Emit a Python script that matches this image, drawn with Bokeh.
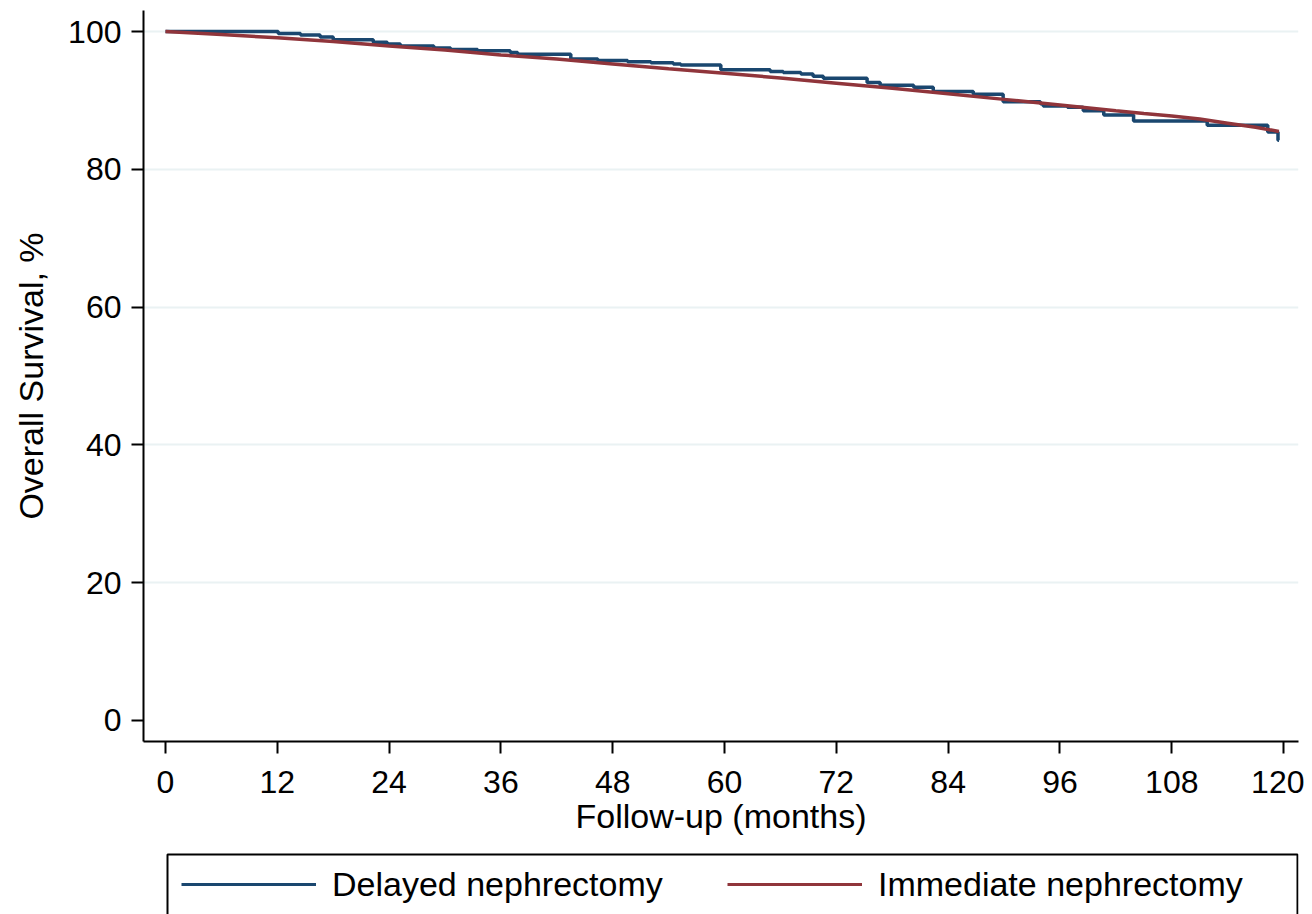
from bokeh.plotting import figure
from bokeh.models import Range1d, FixedTicker, Legend, LegendItem
from bokeh.layouts import column
from bokeh.embed import file_html
from bokeh.resources import INLINE

# ---- data ----
# Delayed nephrectomy: Kaplan-Meier step points (time in months, survival %)
delayed_t = [0, 12.1, 14.5, 16.6, 18.0, 22.3, 23.8, 25.2, 28.8, 30.6, 33.5, 37.0, 37.8,
             43.5, 46.4, 49.6, 52.1, 54.5, 55.3, 59.6, 64.9, 66.3, 68.2, 69.5, 70.6,
             75.3, 76.7, 80.3, 82.4, 86.7, 89.9, 93.9, 94.2, 96.8, 98.5, 100.7, 103.9,
             111.8, 118.3, 119.4, 119.5]
delayed_s = [100, 99.7, 99.5, 99.2, 98.8, 98.45, 98.2, 97.9, 97.6, 97.4, 97.2, 96.95, 96.7,
             96.0, 95.8, 95.6, 95.45, 95.3, 95.15, 94.45, 94.2, 94.05, 93.85, 93.5, 93.2,
             92.6, 92.2, 91.9, 91.3, 90.9, 89.8, 89.5, 89.2, 89.0, 88.5, 87.9, 87.0,
             86.4, 85.4, 84.2, 84.2]

# Immediate nephrectomy (large cohort, near-continuous curve)
immediate_t = [0, 6, 12, 18, 24, 30, 36, 42, 48, 54, 60, 66, 72, 78, 84, 90, 96, 102,
               105, 108, 111, 114, 117, 119.5]
immediate_s = [100, 99.55, 99.1, 98.55, 97.9, 97.3, 96.6, 96.0, 95.3, 94.6, 93.95, 93.25,
               92.5, 91.75, 90.95, 90.15, 89.35, 88.5, 88.1, 87.75, 87.3, 86.7, 86.1, 85.5]

x_ticks = [0, 12, 24, 36, 48, 60, 72, 84, 96, 108, 120]
y_ticks = [0, 20, 40, 60, 80, 100]
grid_ticks = [20, 40, 60, 80, 100]

x_title = "Follow-up (months)"
y_title = "Overall Survival, %"
series_names = ["Delayed nephrectomy", "Immediate nephrectomy"]
NAVY = "#1A476F"
MAROON = "#90353B"
FONT = "Liberation Sans"

# ---- main plot ----
p = figure(width=1304, height=852,
           x_range=Range1d(-2.36, 121.6), y_range=Range1d(-3.05, 103.05),
           output_backend="svg", toolbar_location=None,
           min_border_left=143, min_border_right=6, min_border_top=10, min_border_bottom=111)
p.outline_line_color = None
p.background_fill_color = "white"
p.border_fill_color = "white"

p.xgrid.visible = False
p.ygrid.ticker = FixedTicker(ticks=grid_ticks)
p.ygrid.grid_line_color = "#EAF2F3"
p.ygrid.grid_line_width = 2

p.step(delayed_t, delayed_s, mode="after", line_color=NAVY, line_width=3.5)
p.line(immediate_t, immediate_s, line_color=MAROON, line_width=3.5)

p.xaxis.ticker = FixedTicker(ticks=x_ticks)
p.yaxis.ticker = FixedTicker(ticks=y_ticks)
p.xaxis.axis_label = x_title
p.yaxis.axis_label = y_title

for ax in (p.xaxis, p.yaxis):
    ax.axis_line_color = "black"
    ax.axis_line_width = 2
    ax.major_tick_line_color = "black"
    ax.major_tick_line_width = 2
    ax.major_tick_out = 12
    ax.major_tick_in = 0
    ax.minor_tick_line_color = None
    ax.major_label_text_font = FONT
    ax.major_label_text_font_size = "32px"
    ax.major_label_text_color = "black"
    ax.axis_label_text_font = FONT
    ax.axis_label_text_font_size = "34px"
    ax.axis_label_text_font_style = "normal"
    ax.axis_label_text_color = "black"

p.xaxis.major_label_standoff = 17
p.xaxis.axis_label_standoff = 1
p.yaxis.major_label_standoff = 10
p.yaxis.axis_label_standoff = 15

# ---- legend panel (coordinates of this strip are in pixels) ----
lg = figure(width=1304, height=62, x_range=Range1d(143, 1298), y_range=Range1d(914, 852),
            x_axis_type=None, y_axis_type=None,
            output_backend="svg", toolbar_location=None,
            min_border_left=143, min_border_right=6, min_border_top=0, min_border_bottom=0)
lg.xgrid.visible = False
lg.ygrid.visible = False
lg.outline_line_color = None
lg.background_fill_color = "white"
lg.border_fill_color = "white"

# legend frame: open at the bottom, as in the reference
lg.line([167, 167, 1297, 1297], [920, 854, 854, 920], line_color="black", line_width=2)

nan = float("nan")
r1 = lg.line([nan], [nan], line_color=NAVY, line_width=3)
r2 = lg.line([nan], [nan], line_color=MAROON, line_width=3)

for name, r, xloc in ((series_names[0], r1, 38), (series_names[1], r2, 584)):
    leg = Legend(items=[LegendItem(label=name, renderers=[r])],
                 location=(xloc, 10), orientation="horizontal",
                 glyph_width=135, glyph_height=40, label_height=40,
                 label_standoff=16, padding=0, margin=0, spacing=0,
                 border_line_color=None, background_fill_alpha=0,
                 label_text_font=FONT, label_text_font_size="34px",
                 label_text_color="black")
    lg.add_layout(leg)

layout = column(p, lg, spacing=0)
open("out.html", "w").write(file_html(layout, INLINE))
